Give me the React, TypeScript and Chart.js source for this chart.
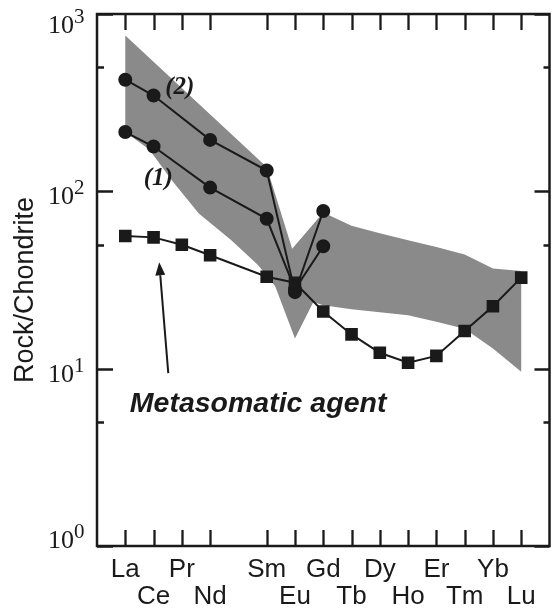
import React, { useEffect, useRef } from 'react';
import { Chart, registerables } from 'chart.js';

Chart.register(...registerables);

// ---- data ----
const elements = ['La', 'Ce', 'Pr', 'Nd', 'Pm', 'Sm', 'Eu', 'Gd', 'Tb', 'Dy', 'Ho', 'Er', 'Tm', 'Yb', 'Lu'];
const shownElements = ['La', 'Ce', 'Pr', 'Nd', 'Sm', 'Eu', 'Gd', 'Tb', 'Dy', 'Ho', 'Er', 'Tm', 'Yb', 'Lu'];
const upperRowLabels = ['La', 'Pr', 'Sm', 'Gd', 'Dy', 'Er', 'Yb'];

const agentElements = ['La', 'Ce', 'Pr', 'Nd', 'Sm', 'Eu', 'Gd', 'Tb', 'Dy', 'Ho', 'Er', 'Tm', 'Yb', 'Lu'];
const agentValues = [56, 55, 50, 43.6, 33, 30.5, 21, 15.6, 12.3, 10.8, 11.8, 16.3, 22.5, 32.6];

const sample1Elements = ['La', 'Ce', 'Nd', 'Sm', 'Eu', 'Gd'];
const sample1Values = [216, 179, 105, 70, 28, 49];

const sample2Elements = ['La', 'Ce', 'Nd', 'Sm', 'Eu', 'Gd'];
const sample2Values = [426, 347, 195, 131, 27, 77.5];

// grey field outline (x in element positions, La = 1 ... Lu = 15)
const fieldX = [1, 6, 6.9, 8, 9, 10, 11, 12, 13, 14, 15, 15, 14, 13, 12, 11, 10, 9, 8, 7.65, 7, 6.3, 5.7, 4.75, 3.6, 2.65, 1.85, 1];
const fieldY = [757, 137, 47.5, 76, 64, 58, 53, 48.6, 44, 36.7, 35.6, 9.6, 13, 16.8, 18.4, 20, 20.8, 21.6, 22.8, 23.8, 14.8, 29.2, 38.3, 53, 75, 115, 172, 216];

const yMajorTicks = [1, 10, 100, 1000];
const yMinorTicks = [5, 50, 500];

const posOf = (el: string) => elements.indexOf(el) + 1;
const toPoints = (els: string[], vals: number[]) => els.map((e, i) => ({ x: posOf(e), y: vals[i] }));

const INK = '#1a1a1a';

const framePlugin = {
  id: 'frame',
  afterDraw(chart: any) {
    const { ctx, chartArea: a, scales } = chart;
    const xs = scales.x;
    const ys = scales.y;
    ctx.save();
    ctx.strokeStyle = INK;
    ctx.fillStyle = INK;
    // frame
    ctx.lineWidth = 2.5;
    ctx.strokeRect(a.left, a.top, a.right - a.left, a.bottom - a.top);
    // x ticks (bottom & top, inward)
    ctx.lineWidth = 2.3;
    ctx.beginPath();
    shownElements.forEach((el) => {
      const px = Math.round(xs.getPixelForValue(posOf(el))) + 0.5;
      ctx.moveTo(px, a.bottom);
      ctx.lineTo(px, a.bottom - 16);
      ctx.moveTo(px, a.top);
      ctx.lineTo(px, a.top + 16);
    });
    // y ticks (left & right, inward)
    yMajorTicks.forEach((v) => {
      const py = Math.round(ys.getPixelForValue(v)) + 0.5;
      ctx.moveTo(a.left, py);
      ctx.lineTo(a.left + 16, py);
      ctx.moveTo(a.right, py);
      ctx.lineTo(a.right - 15, py);
    });
    yMinorTicks.forEach((v) => {
      const py = Math.round(ys.getPixelForValue(v)) + 0.5;
      ctx.moveTo(a.left, py);
      ctx.lineTo(a.left + 7, py);
      ctx.moveTo(a.right, py);
      ctx.lineTo(a.right - 6, py);
    });
    ctx.stroke();

    // y tick labels 10^n
    yMajorTicks.forEach((v) => {
      const py = ys.getPixelForValue(v);
      const base = Math.min(Math.max(py + 13, a.top + 19), a.bottom + 2);
      const exp = String(Math.round(Math.log10(v)));
      ctx.textAlign = 'left';
      ctx.textBaseline = 'alphabetic';
      ctx.font = '26px "Liberation Serif", "Times New Roman", serif';
      ctx.fillText('10', 48, base);
      const w = ctx.measureText('10').width;
      ctx.font = '21px "Liberation Serif", "Times New Roman", serif';
      ctx.fillText(exp, 48 + w, base - 10);
    });

    // y axis title
    ctx.save();
    ctx.translate(33, 290);
    ctx.rotate(-Math.PI / 2);
    ctx.textAlign = 'center';
    ctx.textBaseline = 'alphabetic';
    ctx.font = '27px "Liberation Sans", Arial, sans-serif';
    ctx.fillText('Rock/Chondrite', 0, 0);
    ctx.restore();

    // annotations
    ctx.textAlign = 'center';
    ctx.textBaseline = 'middle';
    ctx.font = 'italic bold 25px "Liberation Serif", "Times New Roman", serif';
    ctx.fillText('(2)', xs.getPixelForValue(2.93), ys.getPixelForValue(385));
    ctx.fillText('(1)', xs.getPixelForValue(2.17), ys.getPixelForValue(118));

    ctx.textAlign = 'left';
    ctx.textBaseline = 'alphabetic';
    ctx.font = 'italic bold 28.5px "Liberation Sans", Arial, sans-serif';
    ctx.fillText('Metasomatic agent', xs.getPixelForValue(1.16), ys.getPixelForValue(5.69));

    // arrow
    const tx = xs.getPixelForValue(2.52), ty = ys.getPixelForValue(9.43);
    const hx = xs.getPixelForValue(2.2), hy = ys.getPixelForValue(39.8);
    const ang = Math.atan2(hy - ty, hx - tx);
    const hl = 13, hw = 5;
    const bx = hx - hl * Math.cos(ang), by = hy - hl * Math.sin(ang);
    ctx.lineWidth = 2;
    ctx.beginPath();
    ctx.moveTo(tx, ty);
    ctx.lineTo(bx, by);
    ctx.stroke();
    ctx.beginPath();
    ctx.moveTo(hx, hy);
    ctx.lineTo(bx + hw * Math.sin(ang), by - hw * Math.cos(ang));
    ctx.lineTo(bx - hw * Math.sin(ang), by + hw * Math.cos(ang));
    ctx.closePath();
    ctx.fill();
    ctx.restore();
  },
};

export default function App() {
  const ref = useRef<HTMLCanvasElement | null>(null);

  useEffect(() => {
    if (!ref.current) return;
    const lineStyle = {
      showLine: true,
      borderColor: INK,
      borderWidth: 2,
      backgroundColor: INK,
      pointBorderColor: INK,
      pointBackgroundColor: INK,
      tension: 0,
      fill: false,
    };
    const chart = new Chart(ref.current, {
      type: 'scatter',
      data: {
        datasets: [
          {
            label: 'Field',
            data: fieldX.map((x, i) => ({ x, y: fieldY[i] })),
            showLine: true,
            borderWidth: 0,
            borderColor: 'rgba(0,0,0,0)',
            backgroundColor: '#8a8a8a',
            pointRadius: 0,
            fill: 'shape',
            tension: 0,
            order: 10,
          },
          {
            label: 'Metasomatic agent',
            data: toPoints(agentElements, agentValues),
            ...lineStyle,
            pointStyle: 'rect',
            pointRadius: 7.5,
            order: 3,
          },
          {
            label: '(1)',
            data: toPoints(sample1Elements, sample1Values),
            ...lineStyle,
            pointStyle: 'circle',
            pointRadius: 6,
            order: 2,
          },
          {
            label: '(2)',
            data: toPoints(sample2Elements, sample2Values),
            ...lineStyle,
            pointStyle: 'circle',
            pointRadius: 6,
            order: 1,
          },
        ],
      },
      options: {
        responsive: false,
        animation: false,
        devicePixelRatio: 1,
        layout: { padding: { top: 14, right: 1, left: 0, bottom: 0 } },
        plugins: {
          legend: { display: false },
          tooltip: { enabled: false },
        },
        scales: {
          x: {
            type: 'linear',
            position: 'bottom',
            min: 0,
            max: 16,
            afterBuildTicks: (s: any) => {
              s.ticks = shownElements.map((el) => ({ value: posOf(el) }));
            },
            afterFit: (s: any) => {
              s.height = 64;
            },
            grid: { display: false, drawTicks: false },
            border: { display: false },
            ticks: {
              autoSkip: false,
              maxRotation: 0,
              minRotation: 0,
              padding: 10,
              color: INK,
              font: { family: '"Liberation Sans", Arial, sans-serif', size: 26, lineHeight: 1.04 },
              callback: (value: any) => {
                const el = elements[Math.round(Number(value)) - 1] || '';
                return upperRowLabels.includes(el) ? el : ['', el];
              },
            },
          },
          y: {
            type: 'logarithmic',
            min: 1,
            max: 1000,
            afterFit: (s: any) => {
              s.width = 97;
            },
            grid: { display: false, drawTicks: false },
            border: { display: false },
            ticks: { display: false },
          },
        },
      },
      plugins: [framePlugin],
    } as any);
    return () => chart.destroy();
  }, []);

  return (
    <div style={{ position: 'absolute', left: 0, top: 0, width: 559, height: 610, background: '#fff' }}>
      <canvas ref={ref} width={559} height={610} style={{ display: 'block' }} />
    </div>
  );
}
